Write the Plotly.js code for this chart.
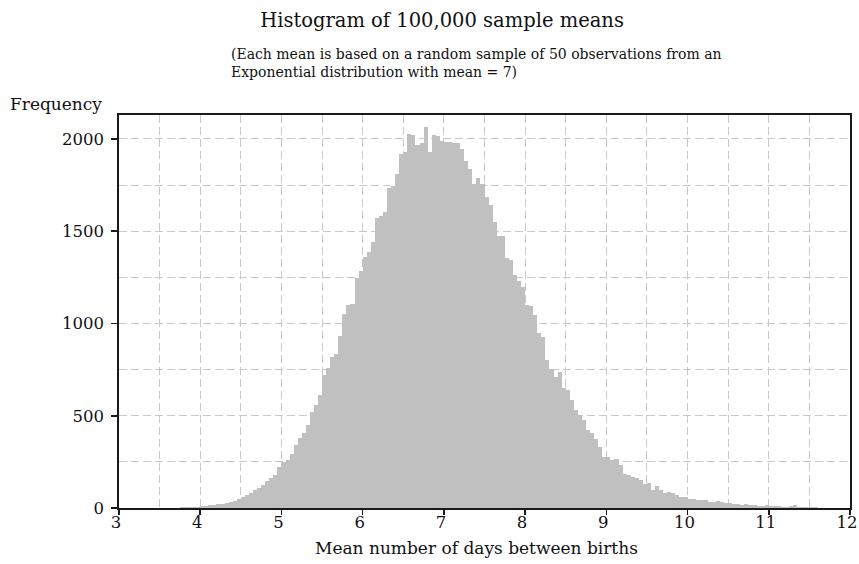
<!DOCTYPE html>
<html>
<head>
<meta charset="utf-8">
<script src="https://cdn.plot.ly/plotly-3.0.1.min.js"></script>
<style>
  html, body { margin: 0; padding: 0; background: #ffffff; }
  #chart { width: 859px; height: 564px; }
</style>
</head>
<body>
<div id="chart"></div>
<script>
// ---- Data ----
const titleText = "Histogram of 100,000 sample means";
const subtitleText = "(Each mean is based on a random sample of 50 observations from an<br>Exponential distribution with mean = 7)";
const xTitle = "Mean number of days between births";
const yTitle = "Frequency";

const binStart = 3.5;     // left edge of first bin
const binWidth = 0.05;    // width of every bin

// Frequency of each bin, from 3.50 upward in steps of 0.05
const counts = [
  0, 0, 1, 1, 2, 3, 4, 5, 6, 8,                 // 3.50 - 3.95
  11, 12, 14, 16, 19, 22, 25, 30, 40, 48,       // 4.00 - 4.45
  60, 68, 82, 95, 110, 125, 146, 160, 178, 220, // 4.50 - 4.95
  248, 262, 293, 342, 378, 407, 451, 520, 560, 610,       // 5.00 - 5.45
  723, 759, 819, 833, 930, 1050, 1100, 1105, 1245, 1284,  // 5.50 - 5.95
  1362, 1389, 1443, 1570, 1583, 1603, 1737, 1745, 1812, 1920, // 6.00 - 6.45
  1932, 2028, 2022, 1968, 1977, 2064, 1932, 2020, 2017, 1991, // 6.50 - 6.95
  1982, 1982, 1977, 1977, 1944, 1880, 1840, 1756, 1787, 1756, // 7.00 - 7.45
  1684, 1642, 1552, 1474, 1474, 1353, 1344, 1262, 1230, 1199, // 7.50 - 7.95
  1100, 1095, 1045, 950, 928, 801, 756, 711, 738, 653,        // 8.00 - 8.45
  639, 584, 530, 503, 476, 422, 404, 376, 331, 277,           // 8.50 - 8.95
  277, 259, 268, 232, 187, 178, 169, 160, 150, 132,           // 9.00 - 9.45
  136, 96, 118, 100, 82, 85, 80, 72, 62, 58,                  // 9.50 - 9.95
  50, 50, 45, 44, 42, 34, 33, 36, 30, 28,                     // 10.00 - 10.45
  25, 22, 20, 18, 20, 15, 14, 12, 12, 15,                     // 10.50 - 10.95
  10, 9, 11, 8, 7, 9, 16, 6, 5, 4,                            // 11.00 - 11.45
  3, 3, 2, 2, 1, 1, 1, 1, 0, 1                                // 11.50 - 11.95
];

const xTickVals = [3, 4, 5, 6, 7, 8, 9, 10, 11, 12];
const yTickVals = [0, 500, 1000, 1500, 2000];

// ---- Build the trace ----
const binCenters = counts.map((_, i) => binStart + binWidth * i + binWidth / 2);

const trace = {
  type: "bar",
  x: binCenters,
  y: counts,
  width: binWidth,
  marker: { color: "#c0c0c0", line: { width: 0 } },
  hoverinfo: "x+y"
};

// ---- Layout ----
const fontFamily = "DejaVu Serif, Liberation Serif, serif";
const gridColor = "#c8c8c8";
const axisColor = "#1a1a1a";
const textColor = "#111111";

const layout = {
  width: 859,
  height: 564,
  margin: { l: 118.5, r: 9, t: 115, b: 56.3, pad: 0 },
  paper_bgcolor: "#ffffff",
  plot_bgcolor: "#ffffff",
  bargap: 0,
  showlegend: false,
  font: { family: fontFamily, color: textColor, size: 17 },
  title: {
    text: titleText,
    font: { family: fontFamily, size: 19.5, color: textColor },
    x: 0.5146, xanchor: "center", xref: "container",
    y: 0.9645, yanchor: "middle", yref: "container"
  },
  xaxis: {
    range: [3, 12],
    tickvals: xTickVals,
    ticktext: xTickVals.map(String),
    ticks: "outside", ticklen: 5, tickwidth: 1.5, tickcolor: axisColor,
    ticklabelstandoff: -6,
    ticklabelshift: -3,
    ticklabeloverflow: "allow",
    showline: true, linecolor: axisColor, linewidth: 1.6, mirror: true,
    showgrid: true, gridcolor: gridColor, gridwidth: 1, griddash: "8px,4px",
    minor: { dtick: 0.5, tick0: 3, showgrid: true, gridcolor: gridColor, gridwidth: 1, griddash: "8px,4px", ticks: "" },
    zeroline: false,
    tickfont: { family: fontFamily, size: 16.5, color: textColor }
  },
  yaxis: {
    range: [0, 2130],
    tickvals: yTickVals,
    ticktext: yTickVals.map(String),
    ticks: "outside", ticklen: 6, tickwidth: 1.5, tickcolor: axisColor,
    ticklabelstandoff: 4,
    showline: true, linecolor: axisColor, linewidth: 1.6, mirror: true,
    showgrid: true, gridcolor: gridColor, gridwidth: 1, griddash: "8px,4px",
    minor: { dtick: 250, tick0: 0, showgrid: true, gridcolor: gridColor, gridwidth: 1, griddash: "8px,4px", ticks: "" },
    zeroline: false,
    tickfont: { family: fontFamily, size: 16.5, color: textColor }
  },
  annotations: [
    {
      text: subtitleText,
      xref: "paper", yref: "paper",
      x: 0.1511, xanchor: "left",
      y: 1.1311, yanchor: "middle",
      align: "left",
      showarrow: false,
      font: { family: fontFamily, size: 14, color: textColor }
    },
    {
      text: yTitle,
      xref: "paper", yref: "paper",
      x: -0.0212, xanchor: "right",
      y: 1.0277, yanchor: "middle",
      showarrow: false,
      font: { family: fontFamily, size: 17, color: textColor }
    },
    {
      text: xTitle,
      xref: "paper", yref: "paper",
      x: 0.4887, xanchor: "center",
      y: -0.1026, yanchor: "middle",
      showarrow: false,
      font: { family: fontFamily, size: 17, color: textColor }
    }
  ]
};

Plotly.newPlot("chart", [trace], layout, { staticPlot: true, displayModeBar: false });
</script>
</body>
</html>
